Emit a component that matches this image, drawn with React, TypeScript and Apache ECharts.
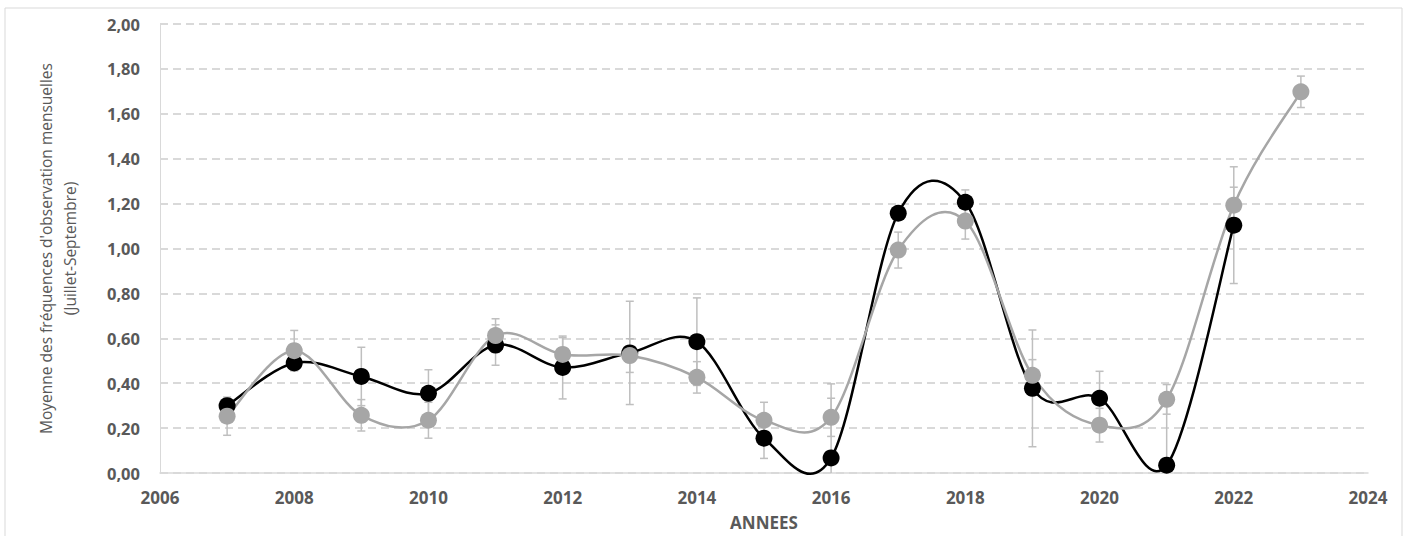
import React, { useEffect, useRef } from "react";
import * as echarts from "echarts";

const years = [2007, 2008, 2009, 2010, 2011, 2012, 2013, 2014, 2015, 2016, 2017, 2018, 2019, 2020, 2021, 2022, 2023];
const blackValues = [0.30, 0.49, 0.43, 0.355, 0.57, 0.47, 0.535, 0.585, 0.155, 0.067, 1.157, 1.206, 0.377, 0.333, 0.035, 1.104, null];
const blackErrors = [0.03, 0.03, 0.13, 0.105, 0.09, 0.14, 0.23, 0.195, 0.09, 0.33, 0.03, 0.055, 0.26, 0.12, 0.3, 0.26, null];
const grayValues = [0.253, 0.545, 0.257, 0.235, 0.612, 0.528, 0.523, 0.426, 0.235, 0.248, 0.993, 1.122, 0.435, 0.213, 0.328, 1.193, 1.698];
const grayErrors = [0.085, 0.09, 0.07, 0.08, 0.075, 0.075, 0.075, 0.07, 0.08, 0.085, 0.08, 0.08, 0.07, 0.075, 0.066, 0.08, 0.07];

const yAxisTitle = "Moyenne des fréquences d'observation mensuelles\n(Juillet-Septembre)";
const xAxisTitle = "ANNEES";

const FONT = "'Open Sans', 'Noto Sans', sans-serif";
const TEXT = "#595959";
const BLACK = "#000000";
const GRAY = "#a6a6a6";

function pointData(vals: (number | null)[]) {
  const out: number[][] = [];
  years.forEach((y, i) => {
    if (vals[i] !== null && vals[i] !== undefined) out.push([y, vals[i] as number]);
  });
  return out;
}

function errData(vals: (number | null)[], errs: (number | null)[]) {
  const out: number[][] = [];
  years.forEach((y, i) => {
    const v = vals[i];
    const e = errs[i];
    if (v !== null && e !== null && v !== undefined && e !== undefined) out.push([y, v - e, v + e]);
  });
  return out;
}

// segments for an Excel-like smoothed line: [x1,y1,x2,y2,x0,y0,x3,y3]
function segData(vals: (number | null)[]) {
  const pts = pointData(vals);
  const out: number[][] = [];
  for (let i = 0; i < pts.length - 1; i++) {
    const p0 = pts[i - 1] || pts[i];
    const p1 = pts[i];
    const p2 = pts[i + 1];
    const p3 = pts[i + 2] || pts[i + 1];
    out.push([p1[0], p1[1], p2[0], p2[1], p0[0], p0[1], p3[0], p3[1]]);
  }
  return out;
}

function makeSegRender(color: string) {
  return function (params: any, api: any) {
    const a = api.coord([api.value(0), api.value(1)]);
    const b = api.coord([api.value(2), api.value(3)]);
    const p0 = api.coord([api.value(4), api.value(5)]);
    const p3 = api.coord([api.value(6), api.value(7)]);
    const k = 1 / 6;
    return {
      type: "bezierCurve",
      shape: {
        x1: a[0],
        y1: a[1],
        x2: b[0],
        y2: b[1],
        cpx1: a[0] + (b[0] - p0[0]) * k,
        cpy1: a[1] + (b[1] - p0[1]) * k,
        cpx2: b[0] - (p3[0] - a[0]) * k,
        cpy2: b[1] - (p3[1] - a[1]) * k,
      },
      style: { stroke: color, lineWidth: 2.5, fill: "none" },
    };
  };
}

function renderErr(params: any, api: any) {
  const x = api.value(0);
  const lo = api.value(1);
  const hi = api.value(2);
  const pHi = api.coord([x, hi]);
  const pLo = api.coord([x, Math.max(0, lo)]);
  const w = 4;
  const style = { stroke: "#bfbfbf", lineWidth: 1.5 };
  const children: any[] = [
    { type: "line", shape: { x1: pHi[0], y1: pHi[1], x2: pLo[0], y2: pLo[1] }, style },
    { type: "line", shape: { x1: pHi[0] - w, y1: pHi[1], x2: pHi[0] + w, y2: pHi[1] }, style },
  ];
  if (lo >= 0) {
    children.push({ type: "line", shape: { x1: pLo[0] - w, y1: pLo[1], x2: pLo[0] + w, y2: pLo[1] }, style });
  }
  return { type: "group", children };
}

export default function App() {
  const ref = useRef<HTMLDivElement>(null);
  useEffect(() => {
    if (!ref.current) return;
    const chart = echarts.init(ref.current, undefined, { renderer: "svg" });
    chart.setOption({
      animation: false,
      backgroundColor: "#ffffff",
      graphic: [
        {
          type: "rect",
          shape: { x: 5, y: 8, width: 1397, height: 540 },
          style: { fill: "none", stroke: "#d9d9d9", lineWidth: 1 },
          silent: true,
          z: -1,
        },
      ],
      grid: { left: 160, right: 39, top: 24, bottom: 61 },
      xAxis: {
        type: "value",
        min: 2006,
        max: 2024,
        interval: 2,
        name: xAxisTitle,
        nameLocation: "middle",
        nameGap: 41,
        nameTextStyle: { color: TEXT, fontFamily: FONT, fontSize: 17, fontWeight: "bold" },
        axisLine: { show: true, lineStyle: { color: "#d9d9d9", width: 1.5 } },
        axisTick: { show: false },
        splitLine: { show: false },
        axisLabel: {
          color: TEXT,
          fontFamily: FONT,
          fontSize: 17,
          fontWeight: "bold",
          margin: 16,
          showMinLabel: true,
          showMaxLabel: true,
          formatter: (v: number) => String(v),
        },
      },
      yAxis: {
        type: "value",
        min: 0,
        max: 2,
        interval: 0.2,
        name: yAxisTitle,
        nameLocation: "middle",
        nameGap: 78,
        nameRotate: 90,
        nameTextStyle: { color: TEXT, fontFamily: FONT, fontSize: 15.5, lineHeight: 24, align: "center" },
        axisLine: { show: true, lineStyle: { color: "#d9d9d9", width: 1 } },
        axisTick: { show: false },
        splitLine: { show: true, lineStyle: { color: "#d9d9d9", width: 2, type: [8, 5] } },
        axisLabel: {
          color: TEXT,
          fontFamily: FONT,
          fontSize: 16.5,
          fontWeight: "bold",
          margin: 20,
          formatter: (v: number) => v.toFixed(2).replace(".", ","),
        },
      },
      series: [
        {
          type: "custom",
          name: "errBlack",
          renderItem: renderErr,
          data: errData(blackValues, blackErrors),
          encode: { x: 0, y: [1, 2] },
          z: 1,
          silent: true,
        },
        {
          type: "custom",
          name: "errGray",
          renderItem: renderErr,
          data: errData(grayValues, grayErrors),
          encode: { x: 0, y: [1, 2] },
          z: 1,
          silent: true,
        },
        {
          type: "custom",
          name: "lineBlack",
          renderItem: makeSegRender(BLACK),
          data: segData(blackValues),
          encode: { x: [0, 2, 4, 6], y: [1, 3, 5, 7] },
          clip: false,
          z: 2,
          silent: true,
        },
        {
          type: "custom",
          name: "lineGray",
          renderItem: makeSegRender(GRAY),
          data: segData(grayValues),
          encode: { x: [0, 2, 4, 6], y: [1, 3, 5, 7] },
          clip: false,
          z: 3,
          silent: true,
        },
        {
          type: "scatter",
          name: "black",
          data: pointData(blackValues),
          symbol: "circle",
          symbolSize: 17,
          itemStyle: { color: BLACK, opacity: 1 },
          z: 4,
        },
        {
          type: "scatter",
          name: "gray",
          data: pointData(grayValues),
          symbol: "circle",
          symbolSize: 17,
          itemStyle: { color: GRAY, opacity: 1 },
          z: 5,
        },
      ],
    });
    return () => chart.dispose();
  }, []);
  return (
    <div
      ref={ref}
      style={{ position: "fixed", left: 0, top: 0, width: 1407, height: 536 }}
    />
  );
}
